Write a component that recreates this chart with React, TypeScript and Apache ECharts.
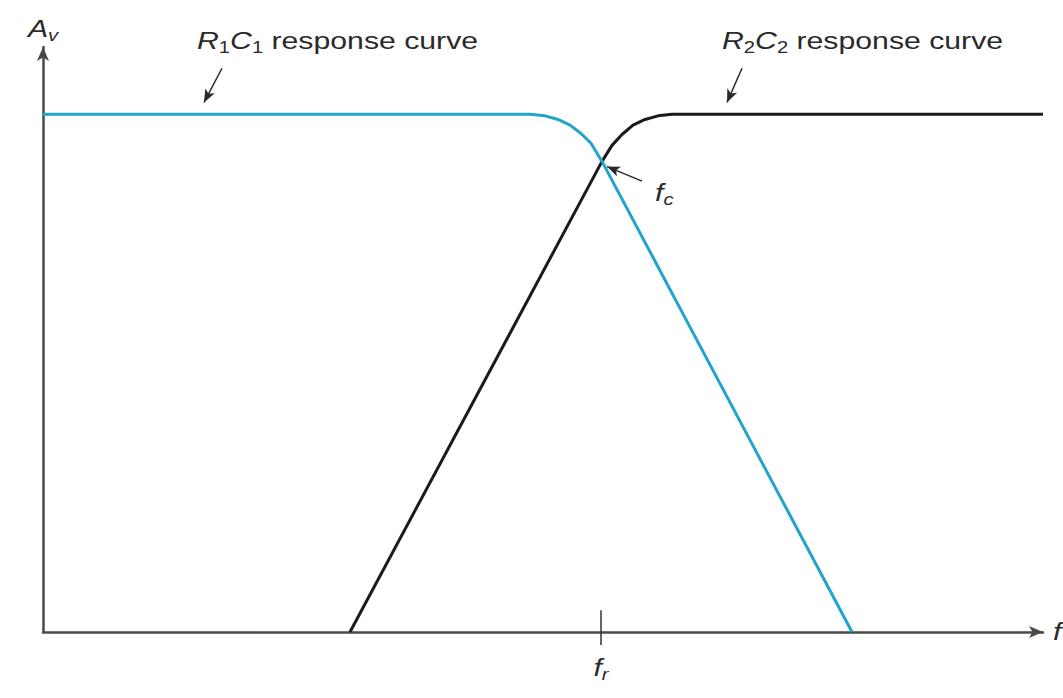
import React, { useEffect, useRef } from "react";
import * as echarts from "echarts";

// Frequency axis (arbitrary linear units) and gain Av (percent of passband)
const r1c1X = [0, 487, 502, 515, 527, 538, 548, 559, 809];
const r1c1Y = [100, 100, 99.7, 99.0, 97.9, 96.3, 94.4, 90.9, 0];
const r2c2X = [307, 559, 569, 579, 590, 602, 615, 629, 1000];
const r2c2Y = [0, 90.9, 94.0, 96.1, 97.9, 99.0, 99.7, 100, 100];
const fr = 558;
const frTick = [4.2, -2.5];
const xMax = 1000;
const yMax = 113;

// annotation anchors (data coordinates)
const avLabelAt = [0, 116.6];
const r1c1LabelAt = [154, 114.3];
const r2c2LabelAt = [679, 114.3];
const fcLabelAt = [612, 84.9];
const frLabelAt = [fr, -6.9];
const fLabelAt = [1010, 0];
const r1c1Arrow = [[179, 108.9], [161, 102.3]];
const r2c2Arrow = [[699, 108.9], [684, 102.3]];
const fcArrow = [[599, 87.1], [564, 89.9]];

const FONT = "'Liberation Sans', Arial, Helvetica, sans-serif";
const TXT = "#2a2a2a";
const BLUE = "#21a4cb";
const BLACK = "#1b1b1b";
const AXIS = "#4a4a4a";
const STRETCH = 1.26;

const rich = {
  i: { fontFamily: FONT, fontSize: 24, fontStyle: "italic", fill: TXT, lineHeight: 30 },
  n: { fontFamily: FONT, fontSize: 24, fill: TXT, lineHeight: 30 },
  s: { fontFamily: FONT, fontSize: 16, fill: TXT, lineHeight: 14, verticalAlign: "bottom" },
  si: { fontFamily: FONT, fontSize: 16, fontStyle: "italic", fill: TXT, lineHeight: 14, verticalAlign: "bottom" },
};

const pair = (xs: number[], ys: number[]) => xs.map((x, i) => [x, ys[i]]);

function arrow(seg: number[][]) {
  return [
    { coord: seg[0], symbol: "none" },
    { coord: seg[1], symbol: "arrow" },
  ];
}

export default function App() {
  const ref = useRef<HTMLDivElement>(null);
  useEffect(() => {
    if (!ref.current) return;
    const chart = echarts.init(ref.current, null, { renderer: "svg" });
    const axisCommon = {
      type: "value",
      axisLine: {
        show: true,
        symbol: ["none", "arrow"],
        symbolSize: [9, 14],
        lineStyle: { color: AXIS, width: 2.5 },
      },
      axisTick: { show: false },
      axisLabel: { show: false },
      splitLine: { show: false },
    };
    chart.setOption({
      animation: false,
      backgroundColor: "#ffffff",
      grid: { left: 43, right: 20, top: 47, bottom: 66 },
      xAxis: { ...axisCommon, min: 0, max: xMax },
      yAxis: { ...axisCommon, min: 0, max: yMax },
      series: [
        {
          name: "R1C1",
          type: "line",
          data: pair(r1c1X, r1c1Y),
          showSymbol: false,
          clip: false,
          lineStyle: { color: BLUE, width: 3, join: "round" },
          z: 3,
          markLine: {
            silent: true,
            symbolSize: [8, 13],
            lineStyle: { color: TXT, width: 1.5, type: "solid" },
            label: { show: false },
            data: [arrow(r1c1Arrow)],
          },
        },
        {
          name: "R2C2",
          type: "line",
          data: pair(r2c2X, r2c2Y),
          showSymbol: false,
          clip: false,
          lineStyle: { color: BLACK, width: 3, join: "round" },
          z: 2,
          markLine: {
            silent: true,
            symbolSize: [8, 13],
            lineStyle: { color: TXT, width: 1.5, type: "solid" },
            label: { show: false },
            data: [arrow(r2c2Arrow), arrow(fcArrow)],
          },
        },
        {
          name: "fr",
          type: "line",
          data: frTick.map((y) => [fr, y]),
          showSymbol: false,
          clip: false,
          lineStyle: { color: "#333333", width: 1.5 },
        },
      ],
    });
    const px = (c: number[]) => chart.convertToPixel({ gridIndex: 0 }, c) as number[];
    const text = (c: number[], t: string, align: string) => {
      const p = px(c);
      return {
        type: "text",
        x: p[0],
        y: p[1],
        scaleX: STRETCH,
        silent: true,
        style: { text: t, rich, align, verticalAlign: "middle", font: `24px ${FONT}`, fill: TXT },
      };
    };
    chart.setOption({
      graphic: [
        text(avLabelAt, "{i|A}{si|v}", "center"),
        text(r1c1LabelAt, "{i|R}{s|1}{i|C}{s|1}{n| response curve}", "left"),
        text(r2c2LabelAt, "{i|R}{s|2}{i|C}{s|2}{n| response curve}", "left"),
        text(fcLabelAt, "{i|f}{si|c}", "left"),
        text(frLabelAt, "{i|f}{si|r}", "center"),
        text(fLabelAt, "{i|f}", "left"),
      ],
    });
    return () => chart.dispose();
  }, []);
  return (
    <div
      ref={ref}
      style={{ position: "absolute", left: 0, top: 0, width: 1063, height: 698, background: "#fff" }}
    />
  );
}
